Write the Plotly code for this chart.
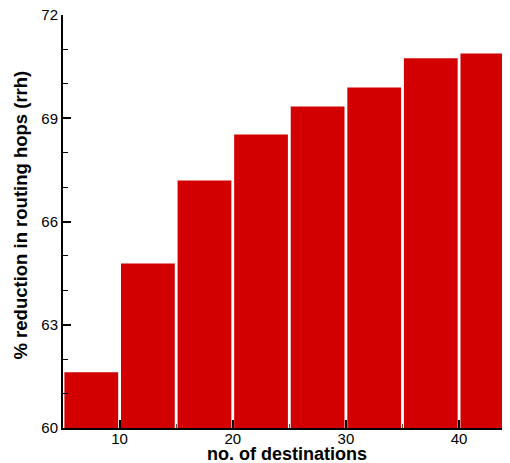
import plotly.graph_objects as go

destinations = [7.5, 12.5, 17.5, 22.5, 27.5, 32.5, 37.5, 42.5]
reduction = [61.62, 64.78, 67.19, 68.53, 69.34, 69.89, 70.74, 70.88]
x_ticks = [10, 20, 30, 40]
y_ticks = [60, 63, 66, 69, 72]

fig = go.Figure(go.Bar(
    x=destinations, y=reduction, width=4.75,
    marker=dict(color="#d20000", line=dict(width=0)),
))

# the page body has an 8px margin, so the figure is sized/offset to compensate
fig.update_layout(
    width=502, height=455,
    margin=dict(l=55, r=0, t=7, b=35, autoexpand=False),
    plot_bgcolor="white", paper_bgcolor="white",
    showlegend=False,
    font=dict(family="Liberation Sans, Arial, sans-serif", color="black", size=15),
    annotations=[
        dict(text="<b>no. of destinations</b>", xref="paper", yref="paper",
             x=0.5, y=0, yshift=-26, xanchor="center", yanchor="middle",
             showarrow=False, font=dict(size=18)),
        dict(text="<b>% reduction in routing hops (rrh)</b>", xref="paper", yref="paper",
             x=0, y=0.5, xshift=-43, yshift=6, xanchor="center", yanchor="middle", textangle=-90,
             showarrow=False, font=dict(size=18.5)),
    ],
)
fig.update_xaxes(
    range=[5, 44.5], tickvals=x_ticks, ticks="inside", ticklen=8, tickwidth=2,
    tickcolor="black", showline=True, linecolor="black", linewidth=2,
    showgrid=False, zeroline=False, automargin=False, ticklabelstandoff=-4,
    minor=dict(ticks="inside", ticklen=4, dtick=5, tick0=0, tickcolor="#555", tickwidth=1),
    tickfont=dict(size=15),
)
fig.update_yaxes(
    range=[60, 72.0001], tickvals=y_ticks, ticks="inside", ticklen=8, tickwidth=2,
    tickcolor="black", showline=True, linecolor="black", linewidth=2,
    showgrid=False, zeroline=False, automargin=False, ticklabeloverflow="allow",
    minor=dict(ticks="inside", ticklen=5, dtick=1, tick0=60, tickcolor="black", tickwidth=1),
    tickfont=dict(size=15),
)

fig.write_html("out.html")
